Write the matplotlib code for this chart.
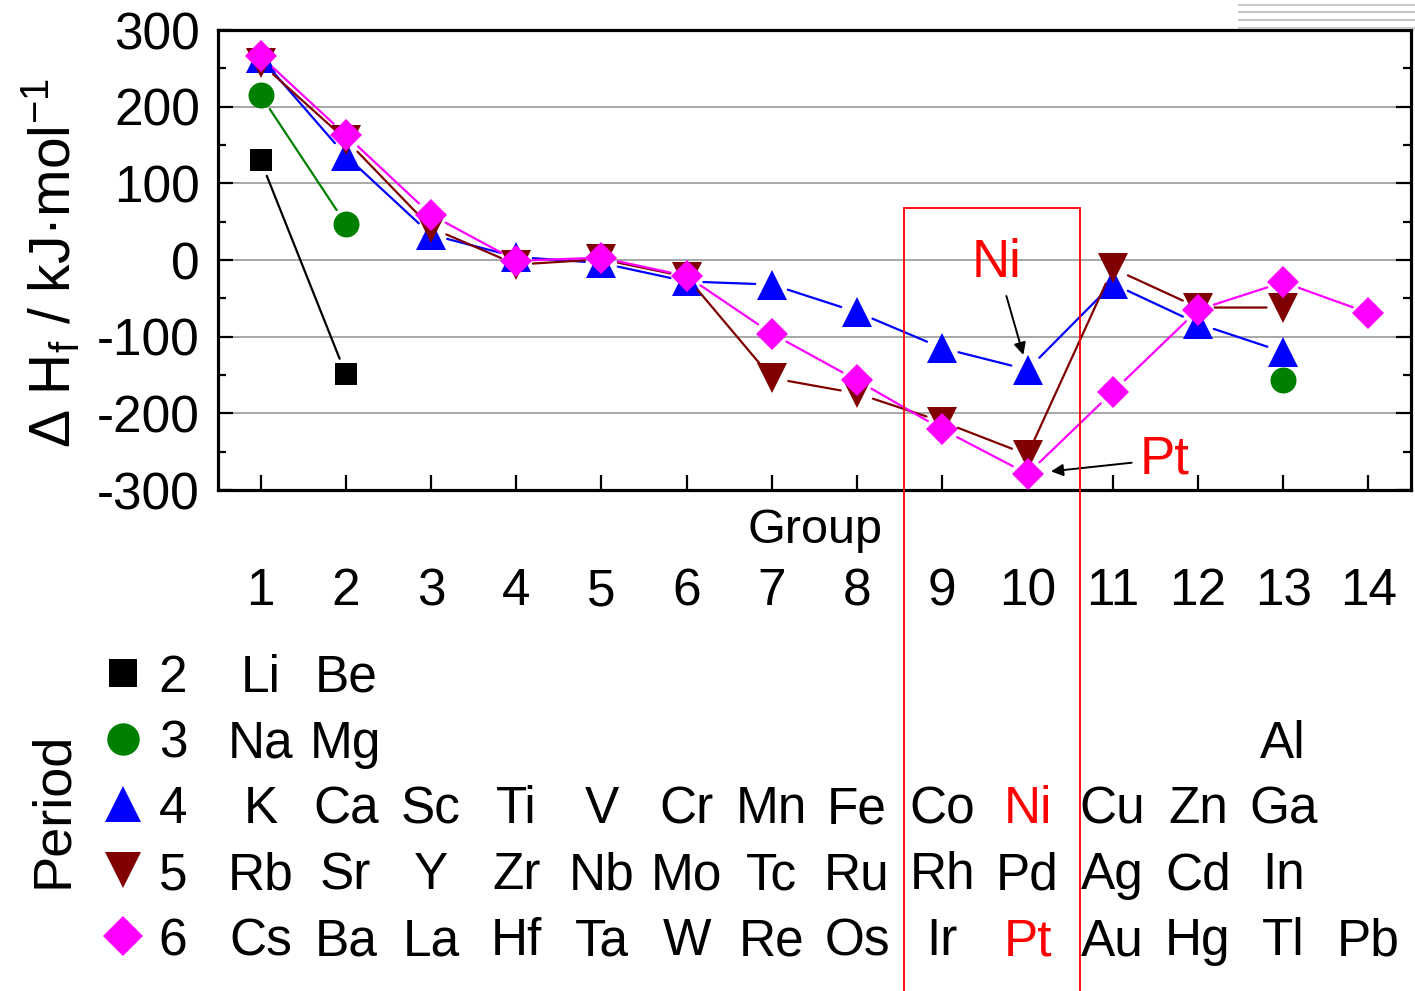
import matplotlib
matplotlib.use("Agg")
import matplotlib.pyplot as plt
from matplotlib import transforms
from matplotlib.lines import Line2D
from matplotlib.patches import Rectangle
from matplotlib.ticker import MultipleLocator

plt.rcParams['font.family'] = 'Liberation Sans'
plt.rcParams['mathtext.fontset'] = 'custom'
plt.rcParams['mathtext.rm'] = 'Liberation Sans'
plt.rcParams['mathtext.it'] = 'Liberation Sans:italic'
plt.rcParams['axes.unicode_minus'] = False

# ---- data (heat of formation per element, by group) ----
groups = list(range(1, 15))

p2_groups = [1, 2]
p2_names = ['Li', 'Be']
p2_vals = [130, -149]

p3_groups = [1, 2, 13]
p3_names = ['Na', 'Mg', 'Al']
p3_vals = [215, 47, -157]

p4_groups = list(range(1, 14))
p4_names = ['K', 'Ca', 'Sc', 'Ti', 'V', 'Cr', 'Mn', 'Fe', 'Co', 'Ni', 'Cu', 'Zn', 'Ga']
p4_vals = [264, 136, 33, 4, -4, -28, -32, -68, -115, -143, -31, -83, -120]

p5_groups = list(range(1, 14))
p5_names = ['Rb', 'Sr', 'Y', 'Zr', 'Nb', 'Mo', 'Tc', 'Ru', 'Rh', 'Pd', 'Ag', 'Cd', 'In']
p5_vals = [257, 157, 42, -6, 1, -22, -154, -174, -211, -254, -11, -62, -62]

p6_groups = list(range(1, 15))
p6_names = ['Cs', 'Ba', 'La', 'Hf', 'Ta', 'W', 'Re', 'Os', 'Ir', 'Pt', 'Au', 'Hg', 'Tl', 'Pb']
p6_vals = [266, 163, 59, -1, 3, -21, -96, -157, -221, -279, -172, -65, -29, -69]

periods = [
    # label, groups, names, values, color, marker, size, row baseline (px)
    ('2', p2_groups, p2_names, p2_vals, 'black', 's', 16.5, 692),
    ('3', p3_groups, p3_names, p3_vals, '#008000', 'o', 18.7, 758),
    ('4', p4_groups, p4_names, p4_vals, '#0000ff', '^', 21, 823),
    ('5', p5_groups, p5_names, p5_vals, '#800000', 'v', 21, 889),
    ('6', p6_groups, p6_names, p6_vals, '#ff00ff', 'D', 16.3, 955),
]
highlight = ['Ni', 'Pt']

W, H = 1415, 991
def fx(x):
    return x / W
def fy(y):
    return 1 - y / H

fig = plt.figure(figsize=(W / 100, H / 100), dpi=100)
ax = fig.add_axes([fx(218), fy(490), (1411 - 218) / W, (490 - 30) / H])
trans = transforms.blended_transform_factory(ax.transData, fig.transFigure)

ax.set_xlim(0.5, 14.5)
ax.set_ylim(-300, 300)

for label, gs, names, vals, color, marker, ms, base in periods:
    # connecting lines with small gaps around the markers
    for i in range(len(gs) - 1):
        if gs[i + 1] - gs[i] != 1:
            continue
        ax.annotate('', xy=(gs[i + 1], vals[i + 1]), xytext=(gs[i], vals[i]),
                    arrowprops=dict(arrowstyle='-', color=color, lw=1.6,
                                    shrinkA=12, shrinkB=12))
    ax.plot(gs, vals, ls='none', marker=marker, ms=ms, color=color, mew=0, zorder=3)

    # legend-like table below the axes
    fig.add_artist(Line2D([fx(123)], [fy(base - 19)], marker=marker, ms=ms * 1.25,
                          color=color, mew=0, ls='none'))
    fig.text(fx(173), fy(base), label, ha='center', va='baseline', fontsize=37)
    for g, n in zip(gs, names):
        ax.text(g, fy(base), n, transform=trans, ha='center', va='baseline', fontsize=37,
                color='red' if n in highlight else 'black')

# group numbers
for g in groups:
    ax.text(g, fy(605), str(g), transform=trans, ha='center', va='baseline', fontsize=37)
fig.text(fx(815), fy(543), 'Group', ha='center', va='baseline', fontsize=35)
fig.text(fx(53), fy(810), 'Period', rotation=90, ha='center', va='center', fontsize=39)

# axes styling
ax.set_xticks(groups)
ax.set_xticklabels([])
ax.yaxis.set_major_locator(MultipleLocator(100))
ax.yaxis.set_minor_locator(MultipleLocator(50))
ax.tick_params(which='both', direction='in', right=True, width=1.6)
ax.tick_params(which='major', length=11)
ax.tick_params(which='minor', length=6)
ax.tick_params(axis='y', labelsize=37, pad=13)
for s in ax.spines.values():
    s.set_linewidth(2.3)
ax.yaxis.grid(True, color='#a0a0a0', lw=1.3)
ax.set_axisbelow(True)

fig.text(fx(51), fy(263), r'Δ H$_{\rm f}$ / kJ·mol$^{-1}$', rotation=90,
         ha='center', va='center', fontsize=41)

# Ni / Pt callouts
ax.annotate('Ni', xy=(10, p4_vals[9]), xytext=(9.64, -22), ha='center', va='baseline',
            color='red', fontsize=38,
            arrowprops=dict(arrowstyle='-|>', color='black', lw=1.4, shrinkA=4, shrinkB=11,
                            mutation_scale=18))
ax.annotate('Pt', xy=(10, p6_vals[9]), xytext=(11.32, -278), ha='left', va='baseline',
            color='red', fontsize=38,
            arrowprops=dict(arrowstyle='-|>', color='black', lw=1.4, shrinkA=4, shrinkB=17,
                            mutation_scale=18))

# highlight box around groups 9 and 10
ax.add_patch(Rectangle((8.55, -0.01), 2.06, fy(208) + 0.01, transform=trans, fill=False,
                       ec='red', lw=1.3, clip_on=False, zorder=5))

# faint lines in the top right corner
for y in [5, 12, 20, 28]:
    fig.add_artist(Line2D([fx(1239), fx(1415)], [fy(y), fy(y)], color='#c8c8c8', lw=1.5))

fig.savefig('out.png', dpi=100)
